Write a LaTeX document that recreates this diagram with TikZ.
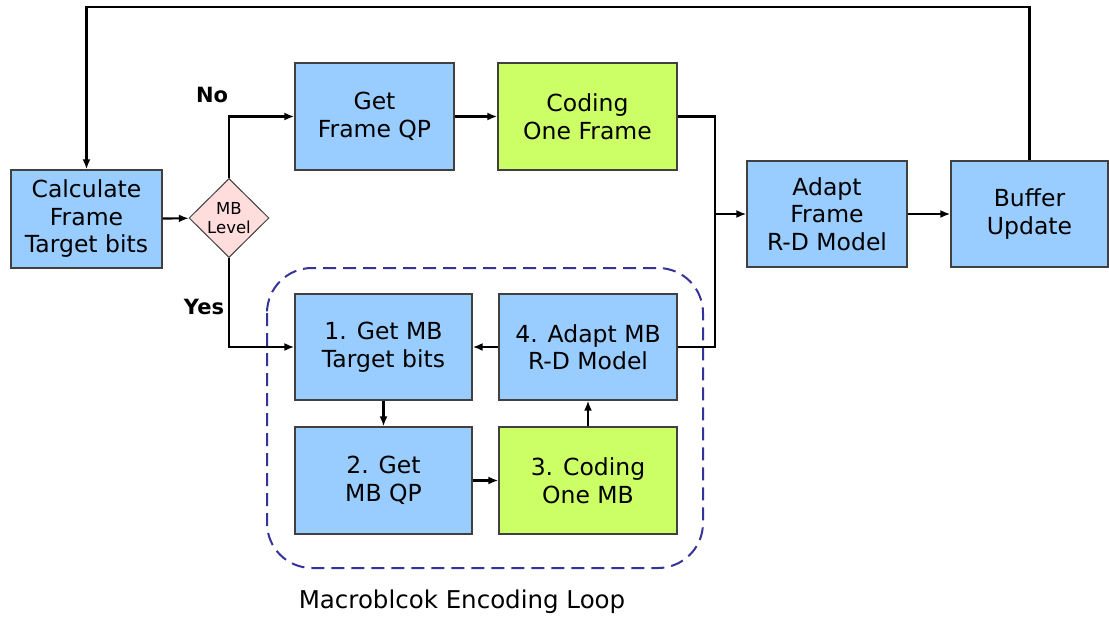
\documentclass[tikz,border=0pt]{standalone}
\usepackage{fontspec}
\setmainfont{DejaVu Sans}
\usepackage{tikz}
\usetikzlibrary{arrows.meta}
\usetikzlibrary{shapes.geometric}
\definecolor{boxblue}{HTML}{99CCFF}
\definecolor{boxgreen}{HTML}{CCFF66}
\definecolor{diampink}{HTML}{FFDDDD}
\definecolor{loopnavy}{HTML}{333399}
\definecolor{edgegray}{HTML}{404040}

\begin{document}
\begin{tikzpicture}[x=1pt,y=-1pt]
\tikzstyle{box} = [rectangle, draw=edgegray, line width=1.3pt, fill=boxblue, inner sep=0pt, align=center, font=\fontsize{23.5}{27.5}\selectfont]
\tikzstyle{coding} = [box, fill=boxgreen]
\tikzstyle{decision} = [diamond, draw=edgegray, line width=1pt, fill=diampink, inner sep=0pt, minimum width=80pt, minimum height=79pt, align=center, font=\fontsize{16.5}{19}\selectfont]
\tikzstyle{flow} = [draw=black, line width=2.2pt, -{Latex[length=10pt,width=8pt]}]
\tikzstyle{answer} = [font=\fontsize{21}{25}\selectfont\bfseries]

\useasboundingbox (0,0) rectangle (1109,618);

\node[box, minimum width=151pt, minimum height=98pt] (calc) at (86.5,219) {Calculate\\Frame\\Target bits};
\node[decision] (mblevel) at (229,218) {MB\\Level};
\node[box, minimum width=159pt, minimum height=107pt] (frameqp) at (374.5,116.5) {Get\\Frame QP};
\node[coding, minimum width=179pt, minimum height=107pt] (codeframe) at (587.5,116.5) {Coding\\One Frame};
\node[box, minimum width=160pt, minimum height=106pt] (adaptframe) at (827,214) {Adapt\\Frame\\R-D Model};
\node[box, minimum width=157pt, minimum height=106pt] (buffer) at (1029.5,214) {Buffer\\Update};

\node[box, minimum width=177pt, minimum height=106pt] (getmb) at (383.5,347) {1. Get MB\\Target bits};
\node[box, minimum width=177pt, minimum height=107pt] (mbqp) at (383.5,480.5) {2. Get\\MB QP};
\node[coding, minimum width=178pt, minimum height=107pt] (codemb) at (588,480.5) {3. Coding\\One MB};
\node[box, minimum width=178pt, minimum height=106pt] (adaptmb) at (588,347) {4. Adapt MB\\R-D Model};

\draw[loopnavy, line width=2pt, dash pattern=on 13pt off 7pt, rounded corners=45pt] (267,268) rectangle (703,568);
\node[font=\fontsize{24.5}{29}\selectfont] (looplabel) at (462,602) {Macroblcok Encoding Loop};

\node[answer] (no) at (212,95) {No};
\node[answer] (yes) at (204,307) {Yes};

\coordinate (join) at (715,214);
\coordinate (feedtop) at (1029.5,7);

\path[flow] (calc) -- (mblevel);
\path[flow] (mblevel.north) |- (frameqp.west);
\path[flow] (mblevel.south) |- (getmb.west);
\path[flow] (frameqp) -- (codeframe);
\draw[line width=2.2pt] (codeframe.east) -| (join);
\draw[line width=2.2pt] (adaptmb.east) -| (join);
\path[flow] (join) -- (adaptframe.west);
\path[flow] (adaptframe) -- (buffer);
\path[flow] (buffer.north) |- (feedtop) -| (calc.north);

\path[flow] (adaptmb) -- (getmb);
\path[flow] (getmb) -- (mbqp);
\path[flow] (mbqp) -- (codemb);
\path[flow] (codemb) -- (adaptmb);
\end{tikzpicture}
\end{document}
